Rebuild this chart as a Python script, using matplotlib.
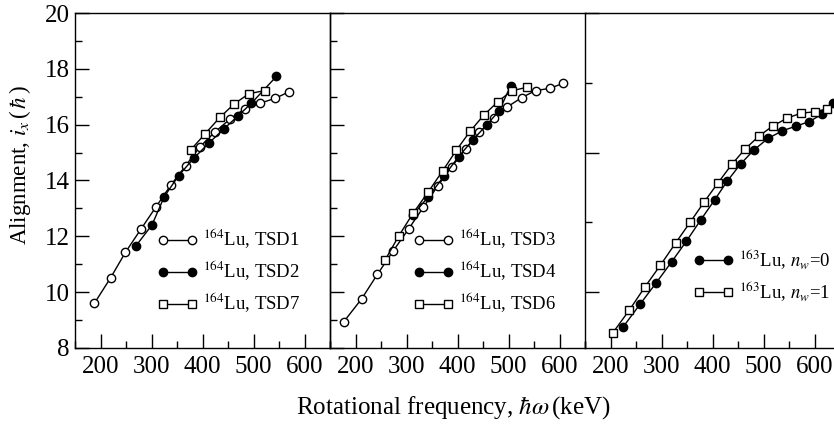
import matplotlib
matplotlib.use("Agg")
import matplotlib.pyplot as plt
from matplotlib.ticker import MultipleLocator
from matplotlib.legend_handler import HandlerLine2D

plt.rcParams['font.family'] = ['Liberation Serif', 'DejaVu Serif']
plt.rcParams['mathtext.fontset'] = 'stix'

# ---- data ----
tsd1_x = [188, 220, 249, 279, 309, 338, 367, 395, 425, 454, 483, 513, 542, 569]
tsd1_y = [9.60, 10.52, 11.43, 12.25, 13.06, 13.84, 14.53, 15.21, 15.75, 16.20, 16.57, 16.77, 16.94, 17.17]
tsd2_x = [270, 301, 325, 353, 383, 413, 442, 470, 496, 545]
tsd2_y = [11.67, 12.41, 13.42, 14.17, 14.80, 15.35, 15.85, 16.32, 16.77, 17.73]
tsd7_x = [377, 405, 434, 462, 491, 522]
tsd7_y = [15.10, 15.67, 16.26, 16.74, 17.11, 17.22]

tsd3_x = [177, 212, 243, 274, 304, 333, 361, 389, 416, 443, 472, 498, 526, 553, 581, 607]
tsd3_y = [8.94, 9.76, 10.64, 11.48, 12.26, 13.04, 13.80, 14.50, 15.13, 15.73, 16.23, 16.64, 16.97, 17.22, 17.30, 17.48]
tsd4_x = [313, 343, 374, 402, 430, 457, 482, 504]
tsd4_y = [12.78, 13.42, 14.17, 14.85, 15.45, 15.99, 16.50, 17.39]
tsd6_x = [258, 285, 313, 343, 371, 398, 425, 452, 479, 506, 536]
tsd6_y = [11.15, 12.02, 12.83, 13.60, 14.35, 15.09, 15.77, 16.35, 16.82, 17.21, 17.34]

nw0_x = [225, 258, 289, 320, 349, 377, 404, 429, 455, 481, 509, 537, 564, 590, 614, 636]
nw0_y = [8.76, 9.57, 10.32, 11.09, 11.83, 12.59, 13.30, 13.98, 14.59, 15.09, 15.51, 15.78, 15.95, 16.11, 16.37, 16.77]
nw1_x = [204, 237, 268, 298, 328, 356, 384, 411, 438, 464, 491, 518, 546, 573, 600, 625]
nw1_y = [8.53, 9.36, 10.20, 10.97, 11.77, 12.50, 13.24, 13.92, 14.58, 15.13, 15.59, 15.95, 16.23, 16.41, 16.46, 16.56]

x_ticks = [200, 300, 400, 500, 600]

panels = [
    [(tsd1_x, tsd1_y, 'o', 'white', r'$^{164}$Lu, TSD1'),
     (tsd2_x, tsd2_y, 'o', 'black', r'$^{164}$Lu, TSD2'),
     (tsd7_x, tsd7_y, 's', 'white', r'$^{164}$Lu, TSD7')],
    [(tsd3_x, tsd3_y, 'o', 'white', r'$^{164}$Lu, TSD3'),
     (tsd4_x, tsd4_y, 'o', 'black', r'$^{164}$Lu, TSD4'),
     (tsd6_x, tsd6_y, 's', 'white', r'$^{164}$Lu, TSD6')],
    [(nw0_x, nw0_y, 'o', 'black', r'$^{163}$Lu, $n_w$=0'),
     (nw1_x, nw1_y, 's', 'white', r'$^{163}$Lu, $n_w$=1')],
]

W, H = 834, 430
fig = plt.figure(figsize=(W / 100, H / 100), dpi=100)

left_px = [75, 330, 585]
pw = 255
bottom = (H - 348) / H
height = 335 / H
leg_anchor = [(0.345, 0.23), (0.349, 0.23), (0.447, 0.216)]

for i, series in enumerate(panels):
    ax = fig.add_axes([left_px[i] / W, bottom, pw / W, height])
    for xs, ys, mk, fc, lab in series:
        ax.plot(xs, ys, '-', color='black', lw=1.0, marker=mk,
                ms=6.3 if mk == 's' else 6.0, mfc=fc, mec='black', mew=1.0,
                label=lab, clip_on=False if i < 2 else True)
    ax.set_xlim(150, 650)
    ax.set_ylim(8, 20)
    ax.set_xticks(x_ticks)
    ax.xaxis.set_minor_locator(MultipleLocator(50))
    if i < 2:
        ax.yaxis.set_major_locator(MultipleLocator(2))
        ax.yaxis.set_minor_locator(MultipleLocator(1))
    else:
        ax.yaxis.set_major_locator(MultipleLocator(5))
        ax.yaxis.set_minor_locator(MultipleLocator(2.5))
    ax.tick_params(which='both', direction='in', top=False, right=False,
                   width=1.0, labelsize=18)
    ax.tick_params(which='major', length=10)
    ax.tick_params(which='minor', length=5)
    ax.tick_params(axis='x', pad=6)
    ax.tick_params(axis='y', pad=4)
    if i > 0:
        ax.tick_params(axis='y', labelleft=False)
    for sp in ax.spines.values():
        sp.set_linewidth(1.0)
    if i == 2:
        ax.spines['left'].set_visible(False)
    ax.patch.set_alpha(0)
    ax.legend(loc='center left', bbox_to_anchor=leg_anchor[i], frameon=False,
              fontsize=13.5, borderpad=0, borderaxespad=0, handlelength=1.55,
              handletextpad=0.6, labelspacing=0.4, numpoints=2,
              handler_map={matplotlib.lines.Line2D: HandlerLine2D(marker_pad=0)})

fig.text(20 / W, (H - 165) / H, r'Alignment, $i_x\,$($\,\hbar\,$)', rotation=90,
         ha='center', va='center', fontsize=16.5)
fig.text(453 / W, (H - 408) / H, r'Rotational frequency, $\hbar\omega\,$(keV)',
         ha='center', va='center', fontsize=18)

fig.savefig('out.png', dpi=100)
